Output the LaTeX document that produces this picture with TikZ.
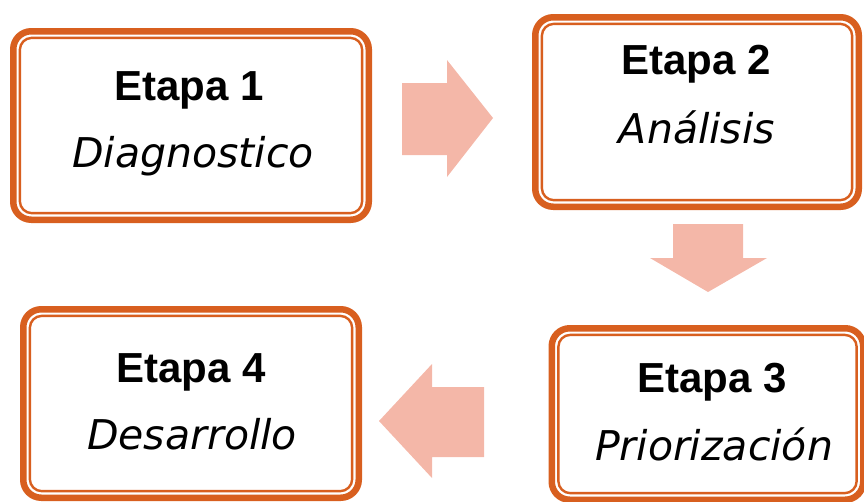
\documentclass[tikz,border=0pt]{standalone}
\usepackage{fontspec}
\usepackage{xcolor}
\usetikzlibrary{calc}
\newfontfamily\stagefont{Liberation Sans}
\newfontfamily\phasefont{DejaVu Sans}
\definecolor{frame}{HTML}{D85F1F}
\definecolor{flow}{HTML}{F4B7A8}
\tikzset{
  stagebox/.style={draw=frame, line width=6.5pt, rounded corners=18pt, fill=white, inner sep=0pt, outer sep=0pt},
  stageinner/.style={draw=frame, line width=2.4pt, rounded corners=12pt},
  flowarrow/.style={fill=flow},
  stagelab/.style={anchor=base, inner sep=0pt, font=\stagefont\bfseries\fontsize{42}{42}\selectfont},
  phaselab/.style={anchor=base, inner sep=0pt, font=\phasefont\itshape\fontsize{41}{41}\selectfont}
}

\begin{document}
\begin{tikzpicture}[x=1pt, y=-1pt, line join=round]
  \useasboundingbox (0,0) rectangle (864,501);
  \clip (0,0) rectangle (864,501);
  % boxes
  \node[stagebox, minimum width=355.5pt, minimum height=188.5pt] (b1) at (191,125.5) {};
  \node[stagebox, minimum width=323.5pt, minimum height=189.5pt] (b2) at (697,112) {};
  \node[stagebox, minimum width=311.5pt, minimum height=171.5pt] (b3) at (707.5,414) {};
  \node[stagebox, minimum width=335.5pt, minimum height=188.5pt] (b4) at (191,403.5) {};
  \foreach \b in {b1,b2,b3,b4}
    \draw[stageinner] ([xshift=6.6pt,yshift=6.6pt]\b.south west) rectangle ([xshift=-6.6pt,yshift=-6.6pt]\b.north east);
  % texts
  \node[stagelab] (t1) at (189,100) {Etapa 1};
  \node[phaselab] (p1) at (193,167) {Diagnostico};
  \node[stagelab] (t2) at (696,74) {Etapa 2};
  \node[phaselab] (p2) at (697,143) {Análisis};
  \node[stagelab] (t3) at (712,392) {Etapa 3};
  \node[phaselab] (p3) at (714,460) {Priorización};
  \node[stagelab] (t4) at (191,382) {Etapa 4};
  \node[phaselab] (p4) at (192,449) {Desarrollo};
  % block arrows
  \fill[flowarrow] (402,83) -- (447,83) -- (447,60) -- (493,118) -- (447,177) -- (447,155) -- (402,155) -- cycle;
  \fill[flowarrow] (673,224) -- (743,224) -- (743,258) -- (767,258) -- (708,292) -- (650,258) -- (673,258) -- cycle;
  \fill[flowarrow] (484,387) -- (432,387) -- (432,364) -- (379,421) -- (432,478) -- (432,457) -- (484,457) -- cycle;
\end{tikzpicture}
\end{document}
